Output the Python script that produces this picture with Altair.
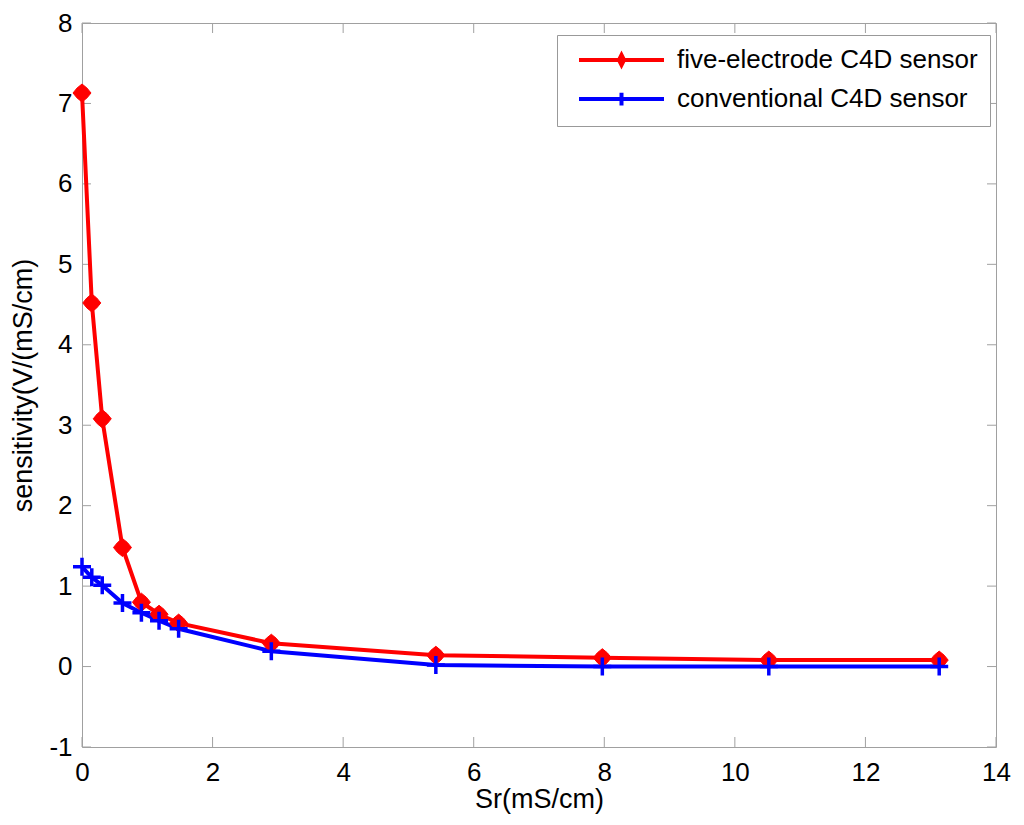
import altair as alt
import pandas as pd

# values
sr = [0, 0.15, 0.31, 0.62, 0.91, 1.18, 1.48, 2.9, 5.42, 7.97, 10.52, 13.13]
five_electrode = [7.13, 4.52, 3.08, 1.48, 0.80, 0.65, 0.54, 0.29, 0.14, 0.11, 0.08, 0.08]
conventional = [1.24, 1.11, 1.01, 0.79, 0.67, 0.57, 0.47, 0.19, 0.02, 0.0, 0.0, 0.0]
series_names = ["five-electrode C4D sensor", "conventional C4D sensor"]
series_colors = ["#ff0000", "#0000ff"]
x_ticks = [0, 2, 4, 6, 8, 10, 12, 14]
y_ticks = [-1, 0, 1, 2, 3, 4, 5, 6, 7, 8]

W, H = 914, 724
FONT = "Liberation Sans"
FRAME = "#a0a0a0"
# plain hyphen for negatives, as in the original
LABEL_EXPR = "datum.value < 0 ? '-' + abs(datum.value) : '' + datum.value"

df = pd.concat(
    [
        pd.DataFrame({"Sr": sr, "sens": five_electrode, "series": series_names[0]}),
        pd.DataFrame({"Sr": sr, "sens": conventional, "series": series_names[1]}),
    ],
    ignore_index=True,
)

x_scale = alt.Scale(domain=[0, 14], nice=False)
y_scale = alt.Scale(domain=[-1, 8], nice=False)
color_scale = alt.Scale(domain=series_names, range=series_colors)

# legend symbols: a line segment with the marker on it
red_leg = "M-5,0H5M0,-0.6L0.3,0L0,0.6L-0.3,0Z"
blue_leg = "M-5,0H5M0,-0.75V0.75"
shape_scale = alt.Scale(domain=series_names, range=[red_leg, blue_leg])

legend = alt.Legend(
    title=None,
    orient="none",
    legendX=475,
    legendY=12,
    padding=12,
    strokeColor="#999999",
    fillColor="white",
    labelFont=FONT,
    labelFontSize=26,
    labelColor="black",
    labelLimit=500,
    labelOffset=42.5,
    symbolOffset=39.5,
    symbolSize=289,
    symbolStrokeWidth=4,
    symbolOpacity=1,
    rowPadding=10,
)

base = alt.Chart(df)

lines = base.mark_line(strokeWidth=4).encode(
    x=alt.X(
        "Sr:Q",
        scale=x_scale,
        axis=alt.Axis(
            values=x_ticks,
            labelExpr=LABEL_EXPR,
            labelFlush=False,
            title="Sr(mS/cm)",
            titleX=W / 2,
            titleY=52,
            titleBaseline="middle",
        ),
    ),
    y=alt.Y(
        "sens:Q",
        scale=y_scale,
        axis=alt.Axis(
            values=y_ticks,
            labelExpr=LABEL_EXPR,
            labelFlush=False,
            title="sensitivity(V/(mS/cm)",
            titleX=-59,
            titleY=H / 2,
            titleBaseline="middle",
            titleAlign="center",
        ),
    ),
    color=alt.Color("series:N", scale=color_scale, sort=series_names, legend=legend),
)

# invisible layer that only carries the legend symbols
legend_layer = base.mark_point(filled=False, opacity=0, size=289, strokeWidth=4).encode(
    x="Sr:Q",
    y="sens:Q",
    color=alt.Color("series:N", scale=color_scale, sort=series_names, legend=legend),
    shape=alt.Shape("series:N", scale=shape_scale, sort=series_names, legend=legend),
)

star = "M0,-1L0.55,-0.55L1,0L0.55,0.55L0,1L-0.55,0.55L-1,0L-0.55,-0.55Z"
red_pts = (
    base.transform_filter(alt.datum.series == series_names[0])
    .mark_point(shape=star, filled=True, fill="#ff0000", stroke="#ff0000", strokeWidth=1, size=324, opacity=1)
    .encode(x="Sr:Q", y="sens:Q")
)
blue_pts = (
    base.transform_filter(alt.datum.series == series_names[1])
    .mark_point(shape="M-1,0H1M0,-1V1", filled=False, stroke="#0000ff", strokeWidth=3.5, size=324, opacity=1)
    .encode(x="Sr:Q", y="sens:Q")
)

# inward ticks on all four sides of the box, like the original
xt = alt.Chart(pd.DataFrame({"t": x_ticks}))
yt = alt.Chart(pd.DataFrame({"t": y_ticks}))
tick_style = dict(color=FRAME, strokeWidth=1)
ticks = (
    xt.mark_rule(**tick_style).encode(x="t:Q", y=alt.value(H), y2=alt.value(H - 10))
    + xt.mark_rule(**tick_style).encode(x="t:Q", y=alt.value(0), y2=alt.value(10))
    + yt.mark_rule(**tick_style).encode(y="t:Q", x=alt.value(0), x2=alt.value(9))
    + yt.mark_rule(**tick_style).encode(y="t:Q", x=alt.value(W), x2=alt.value(W - 9))
)

chart = (
    alt.layer(ticks, lines, red_pts, blue_pts, legend_layer)
    .properties(
        width=W,
        height=H,
        padding={"left": 74, "top": 15, "right": 18, "bottom": 68},
        autosize=alt.AutoSizeParams(type="none"),
        background="white",
    )
    .configure_view(stroke=FRAME, strokeWidth=1)
    .configure_axis(
        grid=False,
        domain=False,
        ticks=False,
        labelFont=FONT,
        labelFontSize=26,
        labelColor="black",
        labelPadding=10,
        titleFont=FONT,
        titleFontSize=27,
        titleFontWeight="normal",
        titleColor="black",
    )
    .configure_axisX(labelPadding=12)
)

chart.save("out.html", embed_options={"renderer": "svg", "actions": False})
